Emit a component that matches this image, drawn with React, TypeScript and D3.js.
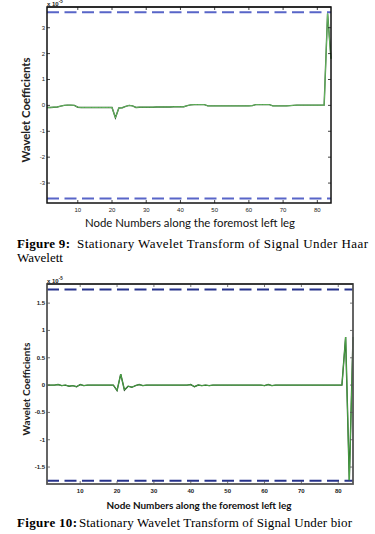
import React, { useEffect, useRef } from "react";
import * as d3 from "d3";

// coefficients per node (x 10^-5)
const haarCoeffs = [
  -0.08, -0.08, -0.07, -0.06, -0.03, 0.0, 0.01, 0.01, 0.0, -0.07,
  -0.08, -0.08, -0.08, -0.08, -0.08, -0.08, -0.08, -0.08, -0.08, -0.08,
  -0.48, -0.1, -0.09, -0.04, 0.0, -0.02, -0.08, -0.07, -0.07, -0.07,
  -0.07, -0.07, -0.06, -0.06, -0.06, -0.06, -0.06, -0.05, -0.05, -0.05,
  -0.05, -0.01, 0.02, 0.03, 0.03, 0.03, 0.03, -0.02, -0.02, -0.02,
  -0.02, -0.02, -0.02, -0.02, -0.02, -0.02, -0.02, -0.02, -0.02, -0.02,
  -0.01, 0.03, 0.03, 0.03, 0.03, 0.03, -0.02, -0.02, -0.02, -0.02,
  -0.02, -0.01, 0.0, 0.01, 0.01, 0.01, 0.01, 0.01, 0.01, 0.01,
  0.01, 0.01, 3.55, 1.8,
];

const biorCoeffs = [
  0.0, 0.0, 0.0, 0.01, -0.01, 0.0, -0.02, -0.01, -0.03, 0.01,
  -0.01, 0.0, 0.0, 0.0, 0.0, 0.0, 0.0, 0.0, 0.0, -0.1,
  0.2, -0.09, -0.02, -0.04, -0.01, 0.01, -0.01, 0.0, 0.0, 0.0,
  0.0, 0.0, 0.0, 0.0, 0.0, 0.0, 0.0, 0.0, 0.0, 0.01,
  -0.03, 0.0, -0.01, 0.0, -0.01, 0.0, 0.0, 0.0, 0.0, 0.0,
  0.0, 0.0, 0.0, 0.0, 0.0, 0.0, 0.0, 0.0, 0.0, -0.01,
  0.01, -0.01, 0.0, 0.0, 0.0, 0.0, 0.0, 0.0, 0.0, 0.0,
  0.0, 0.0, 0.0, 0.0, 0.0, 0.0, 0.0, 0.0, 0.0, 0.0,
  0.0, 0.88, -1.74, 0.88,
];

const haarThresholds = [3.6, -3.6];
const biorThresholds = [1.75, -1.75];

const xTicks = [10, 20, 30, 40, 50, 60, 70, 80];
const haarYTicks = [-3, -2, -1, 0, 1, 2, 3];
const biorYTicks = [-1.5, -1, -0.5, 0, 0.5, 1, 1.5];

const xLabel = "Node Numbers along the foremost left leg";
const yLabel = "Wavelet Coefficients";

const panels = [
  {
    values: haarCoeffs,
    thresholds: haarThresholds,
    yTicks: haarYTicks,
    yDomain: [-3.77, 3.8],
    box: { left: 47, right: 331, top: 7, bottom: 203 },
    frame: "#111",
    frameW: 1.5,
    dash: "#5865c8",
    lineDark: "#2d5e2d",
    lineLight: "#6cc065",
    tickFont: "normal",
    xTickY: 212,
    xLabelY: 227,
    xLabelW: 210,
    xLabelWeight: "normal",
    xLabelSize: 11,
    yLabelX: 30,
    yLabelW: 105,
    yLabelSize: 10.5,
    multY: 6,
  },
  {
    values: biorCoeffs,
    thresholds: biorThresholds,
    yTicks: biorYTicks,
    yDomain: [-1.81, 1.85],
    box: { left: 47, right: 353, top: 284, bottom: 484 },
    frame: "#555",
    frameW: 1.8,
    dash: "#27338c",
    lineDark: "#1f4a1f",
    lineLight: "#4fae4a",
    tickFont: "bold",
    xTickY: 493,
    xLabelY: 509,
    xLabelW: 185,
    xLabelWeight: "bold",
    xLabelSize: 10,
    yLabelX: 30,
    yLabelW: 93,
    yLabelSize: 9.5,
    multY: 283,
  },
];

function Chart() {
  const svgRef = useRef(null);

  useEffect(() => {
    const svg = d3.select(svgRef.current);
    svg.selectAll("*").remove();

    panels.forEach((p, pi) => {
      const { left, right, top, bottom } = p.box;
      const x = d3.scaleLinear().domain([1, 84]).range([left, right]);
      const y = d3.scaleLinear().domain(p.yDomain).range([bottom, top]);
      const g = svg.append("g");

      // threshold lines
      p.thresholds.forEach((t) => {
        g.append("line")
          .attr("x1", left)
          .attr("x2", right)
          .attr("y1", y(t))
          .attr("y2", y(t))
          .attr("stroke", p.dash)
          .attr("stroke-width", 2)
          .attr("stroke-dasharray", "12,5.5");
      });

      const line = d3
        .line()
        .x((d, i) => x(i + 1))
        .y((d) => y(d));

      g.append("path")
        .datum(p.values)
        .attr("d", line)
        .attr("fill", "none")
        .attr("stroke", p.lineDark)
        .attr("stroke-width", 1.4);

      g.append("path")
        .datum(p.values)
        .attr("d", line)
        .attr("fill", "none")
        .attr("stroke", p.lineLight)
        .attr("stroke-width", 0.9);

      // inward ticks on all four sides
      xTicks.forEach((t) => {
        g.append("line")
          .attr("x1", x(t)).attr("x2", x(t))
          .attr("y1", bottom).attr("y2", bottom - 3)
          .attr("stroke", p.frame).attr("stroke-width", 0.8);
        g.append("line")
          .attr("x1", x(t)).attr("x2", x(t))
          .attr("y1", top).attr("y2", top + 3)
          .attr("stroke", p.frame).attr("stroke-width", 0.8);
        g.append("text")
          .attr("x", x(t))
          .attr("y", p.xTickY)
          .attr("text-anchor", "middle")
          .attr("font-family", "Liberation Sans, Arial, sans-serif")
          .attr("font-size", 6)
          .attr("font-weight", p.tickFont)
          .attr("fill", "#222")
          .text(t);
      });

      p.yTicks.forEach((t) => {
        g.append("line")
          .attr("x1", left).attr("x2", left + 3)
          .attr("y1", y(t)).attr("y2", y(t))
          .attr("stroke", p.frame).attr("stroke-width", 0.8);
        g.append("line")
          .attr("x1", right).attr("x2", right - 3)
          .attr("y1", y(t)).attr("y2", y(t))
          .attr("stroke", p.frame).attr("stroke-width", 0.8);
        g.append("text")
          .attr("x", left - 2)
          .attr("y", y(t) + 2)
          .attr("text-anchor", "end")
          .attr("font-family", "Liberation Sans, Arial, sans-serif")
          .attr("font-size", 6)
          .attr("font-weight", p.tickFont)
          .attr("fill", "#222")
          .text(String(t));
      });

      // plot box
      g.append("rect")
        .attr("x", left)
        .attr("y", top)
        .attr("width", right - left)
        .attr("height", bottom - top)
        .attr("fill", "none")
        .attr("stroke", p.frame)
        .attr("stroke-width", p.frameW);
      g.append("line")
        .attr("x1", left).attr("x2", right)
        .attr("y1", top).attr("y2", top)
        .attr("stroke", "#111").attr("stroke-width", 1.2);

      // exponent label
      const m = g.append("text")
        .attr("x", left)
        .attr("y", p.multY)
        .attr("font-family", "Liberation Sans, Arial, sans-serif")
        .attr("font-size", 6)
        .attr("font-weight", "bold")
        .attr("fill", "#222");
      m.append("tspan").text("x 10");
      m.append("tspan").attr("dy", -3).attr("font-size", 4.5).text("-5");

      // axis titles
      g.append("text")
        .attr("x", (left + right) / 2 + (pi === 0 ? 1 : -1))
        .attr("y", p.xLabelY)
        .attr("text-anchor", "middle")
        .attr("font-family", "Lato, Open Sans, sans-serif")
        .attr("font-size", p.xLabelSize)
        .attr("font-weight", p.xLabelWeight)
        .attr("fill", "#111")
        .attr("textLength", p.xLabelW)
        .attr("lengthAdjust", "spacingAndGlyphs")
        .text(xLabel);

      g.append("text")
        .attr("transform", `translate(${p.yLabelX},${(top + bottom) / 2 + 5}) rotate(-90)`)
        .attr("text-anchor", "middle")
        .attr("font-family", "Lato, Open Sans, sans-serif")
        .attr("font-size", p.yLabelSize)
        .attr("font-weight", "bold")
        .attr("fill", "#222")
        .attr("textLength", p.yLabelW)
        .attr("lengthAdjust", "spacingAndGlyphs")
        .text(yLabel);
    });

    // captions
    const serif = "Liberation Serif, Times New Roman, serif";
    const caption = (
      boldTxt: string, bx: number, bw: number, rest: string, rx: number, rw: number, yy: number
    ) => {
      svg.append("text")
        .attr("x", bx).attr("y", yy)
        .attr("font-family", serif).attr("font-size", 13)
        .attr("font-weight", "bold").attr("fill", "#000")
        .attr("textLength", bw)
        .attr("lengthAdjust", "spacing")
        .text(boldTxt);
      svg.append("text")
        .attr("x", rx).attr("y", yy)
        .attr("font-family", serif).attr("font-size", 13)
        .attr("fill", "#000")
        .attr("textLength", rw)
        .attr("lengthAdjust", "spacing")
        .text(rest);
    };
    caption("Figure 9:", 17, 53, "Stationary Wavelet Transform of Signal Under Haar", 77, 291, 248);
    svg.append("text")
      .attr("x", 17).attr("y", 262)
      .attr("font-family", serif).attr("font-size", 13)
      .attr("fill", "#000")
      .text("Wavelett");
    caption("Figure 10:", 17, 60, "Stationary Wavelet Transform of Signal Under bior", 79, 273, 527);
  }, []);

  return (
    <svg
      ref={svgRef}
      width={375}
      height={534}
      style={{ position: "absolute", left: 0, top: 0, background: "#fff" }}
    />
  );
}

export default function App() {
  return <Chart />;
}
